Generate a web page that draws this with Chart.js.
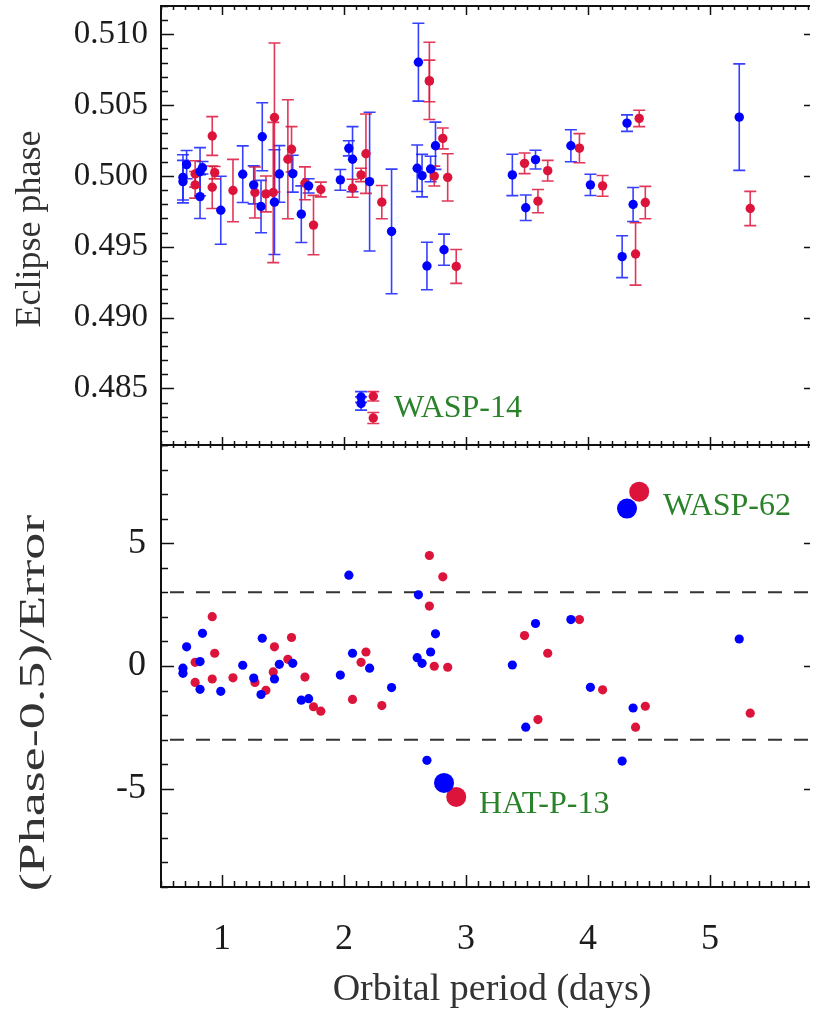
<!DOCTYPE html>
<html>
<head>
<meta charset="utf-8">
<script src="https://cdn.jsdelivr.net/npm/chart.js@4.4.1/dist/chart.umd.min.js"></script>
<style>
  html, body { margin: 0; padding: 0; background: #fff; }
  #wrap { position: relative; width: 814px; height: 1011px; }
  canvas { position: absolute; left: 0; top: 0; }
</style>
</head>
<body>
<div id="wrap">
  <canvas id="phase-chart" width="814" height="460"></canvas>
  <canvas id="sigma-chart" width="814" height="1011"></canvas>
</div>
<script>
// blue set
const bluePeriod = [0.68, 0.68, 0.71, 0.82, 0.82, 0.84, 0.99, 1.17, 1.26, 1.33, 1.32, 1.43, 1.47,
  1.58, 1.65, 1.71, 1.97, 2.04, 2.07, 2.21, 2.39, 2.61, 2.60, 2.64, 2.68, 2.71, 2.75, 2.82,
  3.38, 3.49, 3.57, 3.86, 4.02, 4.32, 4.37, 4.28, 5.24];
const bluePhase = [0.4999, 0.4996, 0.5008, 0.5003, 0.49854, 0.50058, 0.49758, 0.50012, 0.49937,
  0.50277, 0.49784, 0.49815, 0.50014, 0.50016, 0.4973, 0.4993, 0.49972, 0.50195, 0.50118,
  0.4996, 0.49608, 0.50803, 0.50054, 0.50002, 0.49364, 0.50049, 0.50213, 0.49479,
  0.50007, 0.49775, 0.50115, 0.50213, 0.49937, 0.50373, 0.49798, 0.4943, 0.50415];
const blueError = [0.0016, 0.0015, 0.0010, 0.0017, 0.00155, 0.00044, 0.0024, 0.0020, 0.00134,
  0.0024, 0.00185, 0.0037, 0.0020, 0.0013, 0.0020, 0.0005, 0.00073, 0.00053, 0.0023,
  0.0049, 0.0044, 0.00275, 0.00164, 0.0015, 0.00168, 0.0009, 0.00167, 0.0011,
  0.00146, 0.0009, 0.00066, 0.00113, 0.00075, 0.00058, 0.0012, 0.00148, 0.00376];
const blueSigma = [-0.09, -0.30, 0.78, 0.18, -0.95, 1.33, -1.03, 0.03, -0.49, 1.13, -1.16, -0.53,
  0.07, 0.11, -1.39, -1.33, -0.37, 3.70, 0.52, -0.09, -0.88, 2.90, 0.34, 0.11, -3.84, 0.57,
  1.31, -4.76, 0.04, -2.49, 1.73, 1.89, -0.87, 6.41, -1.71, -3.87, 1.10];

// red set
const redPeriod = [0.78, 0.78, 0.92, 0.94, 0.92, 1.09, 1.27, 1.36, 1.43, 1.42, 1.54, 1.57, 1.68,
  1.75, 1.81, 2.07, 2.14, 2.18, 2.31, 2.70, 2.70, 2.81, 2.74, 2.85, 2.92, 3.48, 3.67, 3.59,
  3.93, 4.12, 4.42, 4.47, 4.39, 5.33];
const redPhase = [0.50014, 0.49937, 0.50282, 0.50023, 0.4992, 0.49897, 0.49883, 0.49873, 0.50413,
  0.49883, 0.50118, 0.50188, 0.49948, 0.49653, 0.49904, 0.49913, 0.50007, 0.50157, 0.49815,
  0.50671, 0.50671, 0.50265, 0.49999, 0.4999, 0.49361, 0.50089, 0.50037, 0.49822, 0.50196,
  0.4993, 0.50406, 0.49812, 0.49449, 0.4977];
const redError = [0.00093, 0.00094, 0.00137, 0.00044, 0.0015, 0.0022, 0.0018, 0.00127, 0.00526,
  0.00495, 0.0042, 0.0016, 0.00116, 0.0021, 0.00052, 0.00064, 0.00047, 0.0028, 0.00117,
  0.00147, 0.00273, 0.00074, 0.0007, 0.00167, 0.0012, 0.00073, 0.00073, 0.00082, 0.00103,
  0.00073, 0.00058, 0.00114, 0.0022, 0.00121];
const redSigma = [0.15, -0.67, 2.01, 0.52, -0.53, -0.48, -0.67, -0.99, 0.78, -0.24, 0.27, 1.16,
  -0.45, -1.66, -1.84, -1.36, 0.15, 0.57, -1.61, 4.50, 2.44, 3.63, -0.01, -0.05, -5.33, 1.24,
  0.52, -2.18, 1.89, -0.97, 7.10, -1.64, -2.49, -1.92];

// WASP-14 sits far below the rest and only appears in the phase panel
const wasp14BluePeriod = [2.14, 2.14];
const wasp14BluePhase = [0.48439, 0.48393];
const wasp14BlueError = [0.00038, 0.00047];
const wasp14RedPeriod = [2.24, 2.24];
const wasp14RedPhase = [0.48444, 0.48291];
const wasp14RedError = [0.00033, 0.00039];

// planets drawn with large symbols in the sigma panel
const bigBlue = [27, 33];
const bigRed = [24, 30];

const phaseLabels = [{ text: 'WASP-14', x: 2.41, y: 0.48296 }];
const sigmaLabels = [
  { text: 'WASP-62', x: 4.615, y: 6.16 },
  { text: 'HAT-P-13', x: 3.107, y: -6.0 },
];

const FONT = "'Liberation Serif', 'Times New Roman', serif";
const BLUE = '#0000ff';
const RED = '#dc143c';
const GREEN = '#2a822a';
const INK = '#1c1c1c';

function points(xs, ys) {
  return xs.map((x, i) => ({ x, y: ys[i] }));
}

const errorBars = {
  id: 'errorBars',
  beforeDatasetsDraw(chart) {
    const { ctx, scales: { x, y } } = chart;
    ctx.save();
    ctx.lineWidth = 1.6;
    chart.data.datasets.forEach((ds) => {
      if (!ds.errors) return;
      ctx.strokeStyle = ds.barColor;
      ds.data.forEach((p, i) => {
        const px = x.getPixelForValue(p.x);
        const top = y.getPixelForValue(p.y + ds.errors[i]);
        const bot = y.getPixelForValue(p.y - ds.errors[i]);
        ctx.beginPath();
        ctx.moveTo(px, top); ctx.lineTo(px, bot);
        ctx.moveTo(px - 6, top); ctx.lineTo(px + 6, top);
        ctx.moveTo(px - 6, bot); ctx.lineTo(px + 6, bot);
        ctx.stroke();
      });
    });
    ctx.restore();
  },
};

const refLines = {
  id: 'refLines',
  beforeDatasetsDraw(chart, args, opts) {
    if (!opts.values) return;
    const { ctx, chartArea: a, scales: { y } } = chart;
    ctx.save();
    ctx.strokeStyle = '#333';
    ctx.lineWidth = 2;
    ctx.setLineDash([14, 12]);
    opts.values.forEach((v) => {
      const py = y.getPixelForValue(v);
      ctx.beginPath();
      ctx.moveTo(a.left + 9, py);
      ctx.lineTo(a.right, py);
      ctx.stroke();
    });
    ctx.restore();
  },
};

function tickValues(min, max, step) {
  const out = [];
  for (let k = Math.ceil(min / step - 1e-6); k * step <= max + 1e-9; k++) out.push(k * step);
  return out;
}

function isMajor(v, major) {
  const r = v / major;
  return Math.abs(r - Math.round(r)) < 1e-6;
}

// box with inward ticks; right side has only short major ticks
const frame = {
  id: 'frame',
  afterDraw(chart, args, o) {
    const { ctx, chartArea: a, scales: { x, y } } = chart;
    ctx.save();
    ctx.strokeStyle = '#111';
    ctx.lineWidth = 2;
    ctx.beginPath();
    ctx.moveTo(a.right, a.top); ctx.lineTo(a.left, a.top);
    ctx.lineTo(a.left, a.bottom); ctx.lineTo(a.right, a.bottom);
    ctx.stroke();
    ctx.lineWidth = 1.5;
    ctx.beginPath();
    tickValues(x.min, x.max, o.xMinor).forEach((v) => {
      const px = Math.round(x.getPixelForValue(v)) + 0.5;
      const m = isMajor(v, o.xMajor);
      ctx.moveTo(px, a.top); ctx.lineTo(px, a.top + (m ? o.top[0] : o.top[1]));
      ctx.moveTo(px, a.bottom); ctx.lineTo(px, a.bottom - (m ? o.bottom[0] : o.bottom[1]));
    });
    tickValues(y.min, y.max, o.yMinor).forEach((v) => {
      const py = Math.round(y.getPixelForValue(v)) + 0.5;
      const m = isMajor(v, o.yMajor);
      ctx.moveTo(a.left, py); ctx.lineTo(a.left + (m ? 13 : 7), py);
      if (m) { ctx.moveTo(a.right, py); ctx.lineTo(a.right - 6, py); }
    });
    ctx.stroke();
    ctx.restore();
  },
};

// axis titles and planet names
const texts = {
  id: 'texts',
  afterDraw(chart, args, o) {
    const { ctx, scales: { x, y } } = chart;
    ctx.save();
    ctx.fillStyle = GREEN;
    ctx.font = `32px ${FONT}`;
    ctx.textAlign = 'left';
    ctx.textBaseline = 'alphabetic';
    (o.labels || []).forEach((l) => {
      ctx.fillText(l.text, x.getPixelForValue(l.x), y.getPixelForValue(l.y));
    });
    ctx.fillStyle = '#333';
    ctx.textAlign = 'center';
    ctx.textBaseline = 'middle';
    if (o.yTitle) {
      const t = o.yTitle;
      ctx.save();
      ctx.translate(t.x, t.y);
      ctx.rotate(-Math.PI / 2);
      ctx.scale(t.stretch || 1, 1);
      ctx.font = `${t.size}px ${FONT}`;
      ctx.fillText(t.text, 0, 0);
      ctx.restore();
    }
    if (o.xTitle) {
      ctx.font = `${o.xTitle.size}px ${FONT}`;
      ctx.textBaseline = 'alphabetic';
      ctx.fillText(o.xTitle.text, o.xTitle.x, o.xTitle.y);
    }
    ctx.restore();
  },
};

const xRange = { min: 0.5, max: 5.82 };

// fixed axis box, no extra room reserved for edge labels
function fixedWidth(w) {
  return (scale) => {
    scale.width = w;
    scale.paddingTop = 0;
    scale.paddingBottom = 0;
  };
}

function fixedHeight(h) {
  return (scale) => {
    scale.height = h;
    scale.paddingLeft = 0;
    scale.paddingRight = 0;
  };
}

new Chart(document.getElementById('phase-chart'), {
  type: 'scatter',
  data: {
    datasets: [
      {
        data: points(bluePeriod.concat(wasp14BluePeriod), bluePhase.concat(wasp14BluePhase)),
        errors: blueError.concat(wasp14BlueError),
        barColor: 'rgba(20, 30, 255, 0.85)',
        backgroundColor: BLUE,
        borderWidth: 0,
        pointRadius: 4.7,
      },
      {
        data: points(redPeriod.concat(wasp14RedPeriod), redPhase.concat(wasp14RedPhase)),
        errors: redError.concat(wasp14RedError),
        barColor: 'rgba(220, 20, 60, 0.85)',
        backgroundColor: RED,
        borderWidth: 0,
        pointRadius: 4.7,
      },
    ],
  },
  options: {
    responsive: false,
    animation: false,
    devicePixelRatio: 1,
    layout: { autoPadding: false, padding: { left: 0, right: 4, top: 6, bottom: 15 } },
    plugins: {
      legend: { display: false },
      tooltip: { enabled: false },
      frame: { xMajor: 1, xMinor: 0.1, yMajor: 0.005, yMinor: 0.001, top: [9, 4], bottom: [8, 4] },
      texts: {
        labels: phaseLabels,
        yTitle: { text: 'Eclipse phase', x: 31, y: 229, size: 36 },
      },
    },
    scales: {
      x: { type: 'linear', display: false, min: xRange.min, max: xRange.max, afterFit: fixedHeight(0) },
      y: {
        min: 0.481,
        max: 0.512,
        afterFit: fixedWidth(161),
        grid: { display: false, drawTicks: false },
        border: { display: false },
        ticks: {
          stepSize: 0.005,
          includeBounds: false,
          padding: 13,
          color: INK,
          font: { family: FONT, size: 33 },
          callback: (v) => v.toFixed(3),
        },
      },
    },
  },
  plugins: [errorBars, frame, texts],
});

new Chart(document.getElementById('sigma-chart'), {
  type: 'scatter',
  data: {
    datasets: [
      {
        data: points(bluePeriod, blueSigma),
        backgroundColor: BLUE,
        borderWidth: 0,
        pointRadius: blueSigma.map((v, i) => (bigBlue.includes(i) ? 10 : 4.6)),
      },
      {
        data: points(redPeriod, redSigma),
        backgroundColor: RED,
        borderWidth: 0,
        pointRadius: redSigma.map((v, i) => (bigRed.includes(i) ? 10 : 4.6)),
      },
    ],
  },
  options: {
    responsive: false,
    animation: false,
    devicePixelRatio: 1,
    layout: { autoPadding: false, padding: { left: 0, right: 4, top: 445, bottom: 0 } },
    plugins: {
      legend: { display: false },
      tooltip: { enabled: false },
      refLines: { values: [3, -3] },
      frame: { xMajor: 1, xMinor: 0.1, yMajor: 5, yMinor: 1, top: [5, 3], bottom: [12, 6] },
      texts: {
        labels: sigmaLabels,
        yTitle: { text: '(Phase-0.5)/Error', x: 35, y: 703, size: 36, stretch: 1.5 },
        xTitle: { text: 'Orbital period (days)', x: 492, y: 1000, size: 38 },
      },
    },
    scales: {
      x: {
        type: 'linear',
        min: xRange.min,
        max: xRange.max,
        afterFit: fixedHeight(124),
        grid: { display: false, drawTicks: false },
        border: { display: false },
        ticks: {
          stepSize: 1,
          includeBounds: false,
          padding: 31,
          color: INK,
          font: { family: FONT, size: 36 },
          callback: (v) => String(v),
        },
      },
      y: {
        min: -9,
        max: 9,
        afterFit: fixedWidth(161),
        grid: { display: false, drawTicks: false },
        border: { display: false },
        ticks: {
          stepSize: 5,
          includeBounds: false,
          padding: 15,
          color: INK,
          font: { family: FONT, size: 36 },
          callback: (v) => String(v),
        },
      },
    },
  },
  plugins: [refLines, frame, texts],
});
</script>
</body>
</html>
